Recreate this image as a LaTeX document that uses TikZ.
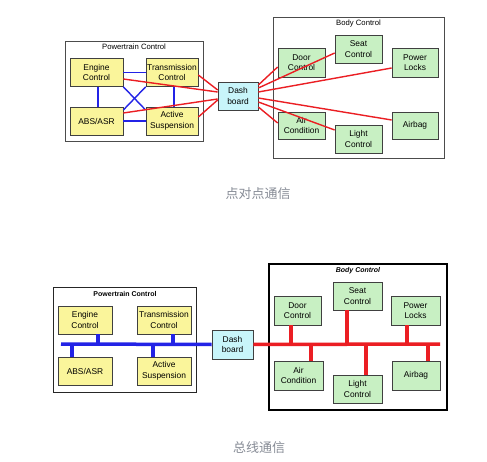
\documentclass[tikz,border=0pt]{standalone}
\usepackage{fontspec}
\setmainfont{Liberation Sans}
\newfontfamily\cjk{Noto Sans CJK SC}
\usepackage{tikz}
\usetikzlibrary{calc}

\definecolor{ecuyellow}{RGB}{250,245,155}
\definecolor{bodygreen}{RGB}{200,240,195}
\definecolor{dashcyan}{RGB}{200,245,250}
\definecolor{linkred}{RGB}{235,30,35}
\definecolor{linkblue}{RGB}{35,35,230}
\definecolor{capgray}{RGB}{135,140,150}

\begin{document}
\begin{tikzpicture}[x=1pt, y=-1pt,
    unit/.style={draw=black!75, line width=0.7pt, align=center, inner sep=0pt,
      font=\fontsize{8.4}{10.5}\selectfont},
    ecu/.style={unit, fill=ecuyellow, minimum width=53pt, minimum height=28pt},
    bcu/.style={unit, fill=bodygreen, minimum width=47pt, minimum height=28pt},
    dashb/.style={unit, fill=dashcyan, minimum width=40pt, minimum height=28pt},
    group/.style={draw=black!70, line width=0.8pt, fill=white, inner sep=0pt},
    grouptitle/.style={font=\fontsize{7.7}{9}\selectfont},
    p2pred/.style={linkred, line width=1.4pt},
    p2pblue/.style={linkblue, line width=1.4pt},
    busred/.style={linkred, line width=3.5pt},
    busblue/.style={linkblue, line width=3.5pt},
    caption/.style={text=capgray, font=\cjk\fontsize{13}{15}\selectfont}]

    % Page frame
    \fill[white] (0,0) rectangle (487,462);
    \useasboundingbox (0,0) rectangle (487,462);

    % ---------- point to point ----------
    % Group frames
    \node[group, minimum width=138pt, minimum height=100pt] (ptcA) at (134,91) {};
    \node[grouptitle] (ptcAtitle) at (134,47) {Powertrain Control};
    \node[group, minimum width=171pt, minimum height=141pt] (bodyA) at (358.5,87.5) {};
    \node[grouptitle] (bodyAtitle) at (358.5,24) {Body Control};

    % Powertrain units
    \node[ecu] (engA) at (96.5,72.5) {Engine\\Control};
    \node[ecu, minimum width=52pt] (transA) at (172,72.5) {Transmission\\Control};
    \node[ecu] (absA) at (96.5,121) {ABS/ASR};
    \node[ecu, minimum width=52pt] (suspA) at (172,121) {Active\\Suspension};

    % Dash board
    \node[dashb] (dashA) at (238,96) {Dash\\board};

    % Body units
    \node[bcu, minimum height=29pt] (doorA) at (301.5,62.5) {Door\\Control};
    \node[bcu] (seatA) at (358.5,49) {Seat\\Control};
    \node[bcu, minimum width=46pt, minimum height=29pt] (lockA) at (415,62.5) {Power\\Locks};
    \node[bcu, minimum height=27pt] (airA) at (301.5,125.5) {Air\\Condition};
    \node[bcu] (lightA) at (358.5,139) {Light\\Control};
    \node[bcu, minimum width=46pt, minimum height=27pt] (bagA) at (415,125.5) {Airbag};

    % Blue links inside powertrain
    \draw[p2pblue] (engA.east) -- (transA.west);
    \draw[p2pblue] (absA.east) -- (suspA.west);
    \draw[p2pblue] ([xshift=1.5pt]engA.south) -- ([xshift=1.5pt]absA.north);
    \draw[p2pblue] ([xshift=2pt]transA.south) -- ([xshift=2pt]suspA.north);
    \draw[p2pblue] (engA.south east) -- ([yshift=11pt]suspA.west);
    \draw[p2pblue] (transA.south west) -- ([yshift=11pt]absA.east);

    % Red links to the dash board
    \draw[p2pred] ([yshift=-6.5pt]engA.east) -- ([yshift=4pt]dashA.west);
    \draw[p2pred] ([yshift=-2.5pt]transA.east) -- ([yshift=6pt]dashA.west);
    \draw[p2pred] ([yshift=8pt]absA.east) -- ([yshift=-3pt]dashA.west);
    \draw[p2pred] ([yshift=4pt]suspA.east) -- ([yshift=-4pt]dashA.west);
    \draw[p2pred] ([yshift=11pt]dashA.east) -- ([yshift=-4.5pt]doorA.west);
    \draw[p2pred] ([yshift=8pt]dashA.east) -- ([yshift=-4pt]seatA.west);
    \draw[p2pred] ([yshift=4pt]dashA.east) -- ([yshift=-5.5pt]lockA.west);
    \draw[p2pred] ([yshift=-2pt]dashA.east) -- ([yshift=5.5pt]bagA.west);
    \draw[p2pred] ([yshift=-6pt]dashA.east) -- ([yshift=9pt]lightA.west);
    \draw[p2pred] ([yshift=-11pt]dashA.east) -- ([yshift=2.5pt]airA.west);

    \node[caption] (capA) at (258,194) {点对点通信};

    % ---------- bus ----------
    % Group frames
    \node[group, draw=black!85, minimum width=143pt, minimum height=105pt] (ptcB) at (124.5,339.5) {};
    \node[grouptitle, font=\bfseries\fontsize{7}{9}\selectfont] (ptcBtitle) at (125,294) {Powertrain Control};
    \node[group, draw=black, line width=1.3pt, minimum width=178pt, minimum height=146pt] (bodyB) at (358,337) {};
    \node[grouptitle, font=\bfseries\itshape\fontsize{7}{9}\selectfont] (bodyBtitle) at (358,271) {Body Control};

    % Bus ends
    \coordinate (busL) at (61,344);
    \coordinate (busR) at (440,344);

    % Powertrain units
    \node[ecu, minimum width=54pt] (engB) at (85,320) {Engine\\Control};
    \node[ecu, minimum width=54pt] (transB) at (164,320) {Transmission\\Control};
    \node[ecu, minimum width=54pt] (absB) at (85,371) {ABS/ASR};
    \node[ecu, minimum width=54pt] (suspB) at (164,371) {Active\\Suspension};

    % Dash board
    \node[dashb, minimum width=41pt, minimum height=29pt] (dashB) at (232.5,344.5) {Dash\\board};

    % Body units
    \node[bcu, minimum height=29pt] (doorB) at (297.5,310.5) {Door\\Control};
    \node[bcu, minimum width=49pt] (seatB) at (357.5,296) {Seat\\Control};
    \node[bcu, minimum width=49pt, minimum height=29pt] (lockB) at (415.5,310.5) {Power\\Locks};
    \node[bcu, minimum width=49pt, minimum height=29pt] (airB) at (298.5,375.5) {Air\\Condition};
    \node[bcu, minimum width=49pt] (lightB) at (357.5,389) {Light\\Control};
    \node[bcu, minimum width=48pt, minimum height=29pt] (bagB) at (416,375.5) {Airbag};

    % Blue bus and stubs
    \draw[busblue] (busL) -- (dashB.west);
    \draw[busblue] ([xshift=13pt]engB.south) -- ([xshift=13pt]engB.south |- busL);
    \draw[busblue] ([xshift=9pt]transB.south) -- ([xshift=9pt]transB.south |- busL);
    \draw[busblue] ([xshift=-13pt]absB.north) -- ([xshift=-13pt]absB.north |- busL);
    \draw[busblue] ([xshift=-11pt]suspB.north) -- ([xshift=-11pt]suspB.north |- busL);

    % Red bus and stubs
    \draw[busred] (dashB.east) -- (busR);
    \draw[busred] ([xshift=-6.5pt]doorB.south) -- ([xshift=-6.5pt]doorB.south |- busR);
    \draw[busred] ([xshift=-10.5pt]seatB.south) -- ([xshift=-10.5pt]seatB.south |- busR);
    \draw[busred] ([xshift=-8.5pt]lockB.south) -- ([xshift=-8.5pt]lockB.south |- busR);
    \draw[busred] ([xshift=12.5pt]airB.north) -- ([xshift=12.5pt]airB.north |- busR);
    \draw[busred] ([xshift=8.5pt]lightB.north) -- ([xshift=8.5pt]lightB.north |- busR);
    \draw[busred] ([xshift=12pt]bagB.north) -- ([xshift=12pt]bagB.north |- busR);

    \node[caption] (capB) at (259,448) {总线通信};
\end{tikzpicture}
\end{document}
